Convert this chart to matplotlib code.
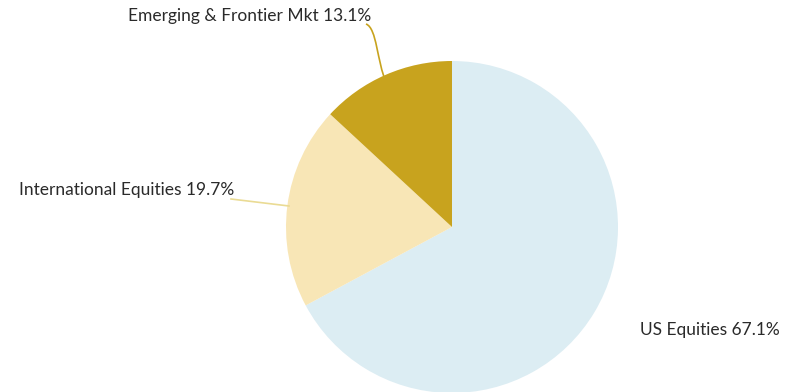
import matplotlib.pyplot as plt
from matplotlib.path import Path
from matplotlib.patches import PathPatch

labels = ["US Equities", "International Equities", "Emerging & Frontier Mkt"]
shares = [67.1, 19.7, 13.1]
colors = ["#dcedf3", "#f8e6b6", "#c8a31e"]

W, H = 795, 392
fig = plt.figure(figsize=(W / 100, H / 100), dpi=100)
ax = fig.add_axes([0, 0, 1, 1])
ax.set_xlim(0, W)
ax.set_ylim(0, H)
ax.set_aspect("equal")
ax.axis("off")

# pie in pixel units, y measured upwards
cx, cy, r = 452, H - 227, 166
ax.pie(shares, colors=colors, startangle=90, counterclock=False,
       center=(cx, cy), radius=r, wedgeprops=dict(linewidth=0))
ax.set_xlim(0, W)
ax.set_ylim(0, H)

font = dict(family="Lato", fontsize=12.5, color="#2a2a2a", va="center", ha="left")
txt = [f"{l} {s}%" for l, s in zip(labels, shares)]
ax.text(640, H - 330, txt[0], **font)
ax.text(19, H - 190, txt[1], **font)
ax.text(128, H - 16, txt[2], **font)

# leader lines
em = Path([(366, H - 24), (377, H - 28), (377, H - 62), (386, H - 82)],
          [Path.MOVETO, Path.CURVE4, Path.CURVE4, Path.CURVE4])
ax.add_patch(PathPatch(em, fill=False, edgecolor="#c8a31e", linewidth=1.2))
ax.plot([231, 289], [H - 199, H - 206], color="#eadb94", linewidth=1.2)

fig.savefig("out.png", dpi=100)
